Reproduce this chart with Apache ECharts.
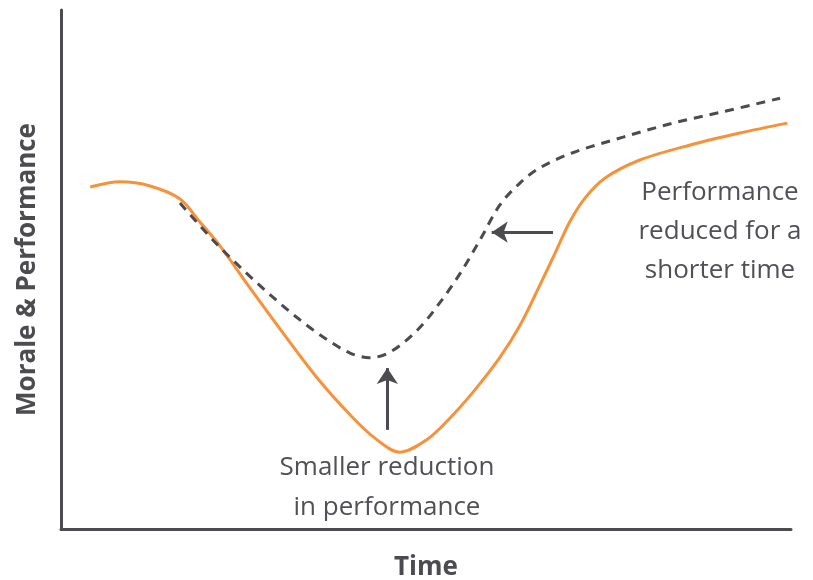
<!DOCTYPE html>
<html>
<head>
<meta charset="utf-8">
<script src="https://cdn.jsdelivr.net/npm/echarts@6/dist/echarts.min.js"></script>
<style>
  html, body { margin: 0; padding: 0; background: #fff; }
  #chart { width: 813px; height: 580px; }
</style>
</head>
<body>
<div id="chart"></div>
<script>
// points, x = time, y = morale & performance (0-100)
var orangeX = [4.0, 8.1, 12.2, 16.3, 19.0, 21.8, 25.9, 30.4, 35.1, 39.6, 43.0, 46.4, 50.1, 53.3, 56.7, 60.1, 62.9, 65.6, 67.7, 69.7, 71.8, 74.5, 79.3, 86.2, 93.0, 99.5];
var orangeY = [65.9, 66.9, 66.1, 63.6, 59.2, 54.5, 46.4, 37.8, 29.1, 22.0, 17.5, 14.8, 17.2, 21.4, 26.8, 33.0, 39.3, 47.0, 53.2, 59.2, 63.8, 67.6, 71.1, 74.0, 76.3, 78.2];
var dashedX = [16.3, 20.8, 24.5, 28.2, 32.1, 35.9, 39.6, 42.3, 45.1, 48.8, 51.9, 54.7, 57.4, 60.1, 62.9, 65.6, 70.1, 77.0, 83.8, 90.7, 98.5];
var dashedY = [62.8, 55.7, 50.5, 45.7, 41.0, 37.0, 33.9, 33.0, 34.1, 38.3, 43.6, 49.3, 55.7, 62.4, 66.7, 69.6, 72.5, 75.5, 78.2, 80.4, 83.0];
// arrows [fromX, fromY, toX, toY]
var arrowLeft = [67.4, 57.2, 59.0, 57.2];
var arrowUp = [44.7, 19.1, 44.7, 31.0];
var noteRight = ['Performance', 'reduced for a', 'shorter time'];
var noteBottom = ['Smaller reduction', 'in performance'];

var ink = '#4b4b50';
var orange = '#f7913a';

function pairs(xs, ys) {
  return xs.map(function (x, i) { return [x, ys[i]]; });
}
function arrow(a) {
  return [{ coord: [a[0], a[1]] }, { coord: [a[2], a[3]] }];
}
function note(lines, cx, cy, step) {
  return lines.map(function (t, i) {
    return {
      type: 'text', x: cx, y: cy + i * step,
      style: {
        text: t, align: 'center', verticalAlign: 'middle',
        font: '26px "Open Sans"', fill: '#505056'
      }
    };
  });
}

var chart = echarts.init(document.getElementById('chart'));
var option = {
  animation: false,
  grid: { left: 61, right: 22, top: 10, bottom: 51, outerBoundsMode: 'none' },
  xAxis: {
    type: 'value', min: 0, max: 100,
    name: 'Time', nameLocation: 'middle', nameGap: 26,
    nameTextStyle: { color: ink, fontSize: 26, fontWeight: 'bold', fontFamily: 'Open Sans' },
    axisLine: { show: true, lineStyle: { color: ink, width: 3 } },
    axisTick: { show: false }, axisLabel: { show: false }, splitLine: { show: false }
  },
  yAxis: {
    type: 'value', min: 0, max: 100,
    name: 'Morale & Performance', nameLocation: 'middle', nameGap: 20,
    nameTextStyle: { color: ink, fontSize: 26, fontWeight: 'bold', fontFamily: 'Open Sans' },
    axisLine: { show: true, lineStyle: { color: ink, width: 3 } },
    axisTick: { show: false }, axisLabel: { show: false }, splitLine: { show: false }
  },
  series: [
    {
      type: 'line', smooth: 0.33, symbol: 'none',
      data: pairs(orangeX, orangeY),
      lineStyle: { color: orange, width: 3 }
    },
    {
      type: 'line', smooth: 0.33, symbol: 'none', z: 3,
      data: pairs(dashedX, dashedY),
      lineStyle: { color: ink, width: 3, type: [9, 7] },
      markLine: {
        silent: true,
        symbol: ['none', 'arrow'], symbolSize: [16, 16],
        label: { show: false },
        lineStyle: { color: ink, width: 3, type: 'solid' },
        data: [arrow(arrowLeft), arrow(arrowUp)]
      }
    }
  ],
  graphic: note(noteRight, 720, 193, 39).concat(note(noteBottom, 387, 468, 40))
};
chart.setOption(option);
</script>
</body>
</html>
